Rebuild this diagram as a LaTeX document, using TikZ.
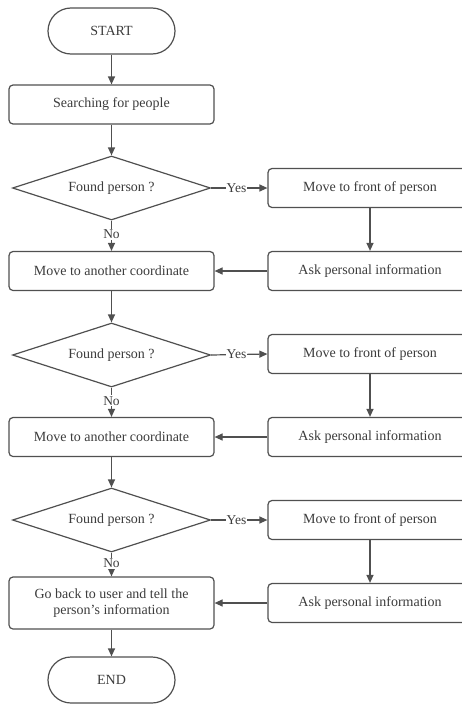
\documentclass[tikz,border=0pt]{standalone}
\usepackage{fontspec}
\setmainfont{Liberation Serif}
\usetikzlibrary{shapes.geometric,arrows.meta}
\definecolor{ln}{HTML}{505050}
\definecolor{tx}{HTML}{3C3C3C}
\tikzset{
  x=1pt,y=1pt,
  base/.style={draw=ln,line width=1.2pt,text=tx,font=\fontsize{14}{16}\selectfont,align=center,inner sep=0pt},
  proc/.style={base,rectangle,rounded corners=4pt,minimum width=205pt,minimum height=39pt},
  term/.style={base,rectangle,rounded corners=23pt,minimum width=127pt,minimum height=46pt},
  dec/.style={base,diamond,aspect=3.1,minimum width=198pt,minimum height=64pt},
  arr/.style={draw=ln,line width=1.2pt,-{Triangle[length=8pt,width=7pt]}},
  lab/.style={fill=white,text=tx,font=\fontsize{13.5}{15}\selectfont,inner sep=1pt}
}
\begin{document}
\begin{tikzpicture}
\useasboundingbox (0,0) rectangle (462,-704);
\fill[white] (0,0) rectangle (462,-704);
\clip (0,0) rectangle (462,-704);
\node[term] (start) at (111.5,-31) {START};
\node[proc] (search) at (111.5,-104.5) {Searching for people};
\node[dec] (d1) at (111.5,-188) {Found person ?};
\node[proc,minimum width=204pt] (f1) at (370,-188) {Move to front of person};
\node[proc,minimum width=204pt] (a1) at (370,-271) {Ask personal information};
\node[proc] (m1) at (111.5,-271) {Move to another coordinate};
\node[dec] (d2) at (111.5,-355) {Found person ?};
\node[proc,minimum width=204pt] (f2) at (370,-354) {Move to front of person};
\node[proc,minimum width=204pt] (a2) at (370,-437) {Ask personal information};
\node[proc] (m2) at (111.5,-437) {Move to another coordinate};
\node[dec] (d3) at (111.5,-520) {Found person ?};
\node[proc,minimum width=204pt] (f3) at (370,-520) {Move to front of person};
\node[proc,minimum width=204pt] (a3) at (370,-603) {Ask personal information};
\node[proc,minimum height=52pt] (g) at (111.5,-603) {Go back to user and tell the\\person's information};
\node[term] (end) at (111.5,-680) {END};

\draw[arr] (start) -- (search);
\draw[arr] (search) -- (d1);
\draw[arr] (d1.east) -- node[lab,pos=0.45]{Yes} (f1.west);
\draw[arr] (d1.south) -- node[lab,pos=0.45]{No} (m1.north);
\draw[arr] (f1) -- (a1);
\draw[arr] (a1) -- (m1);
\draw[arr] (m1) -- (d2);
\draw[arr] (d2.east) -- node[lab,pos=0.45]{Yes} (f2.west);
\draw[arr] (d2.south) -- node[lab,pos=0.45]{No} (m2.north);
\draw[arr] (f2) -- (a2);
\draw[arr] (a2) -- (m2);
\draw[arr] (m2) -- (d3);
\draw[arr] (d3.east) -- node[lab,pos=0.45]{Yes} (f3.west);
\draw[arr] (d3.south) -- node[lab,pos=0.45]{No} (g.north);
\draw[arr] (f3) -- (a3);
\draw[arr] (a3) -- (g);
\draw[arr] (g) -- (end);
\end{tikzpicture}
\end{document}
